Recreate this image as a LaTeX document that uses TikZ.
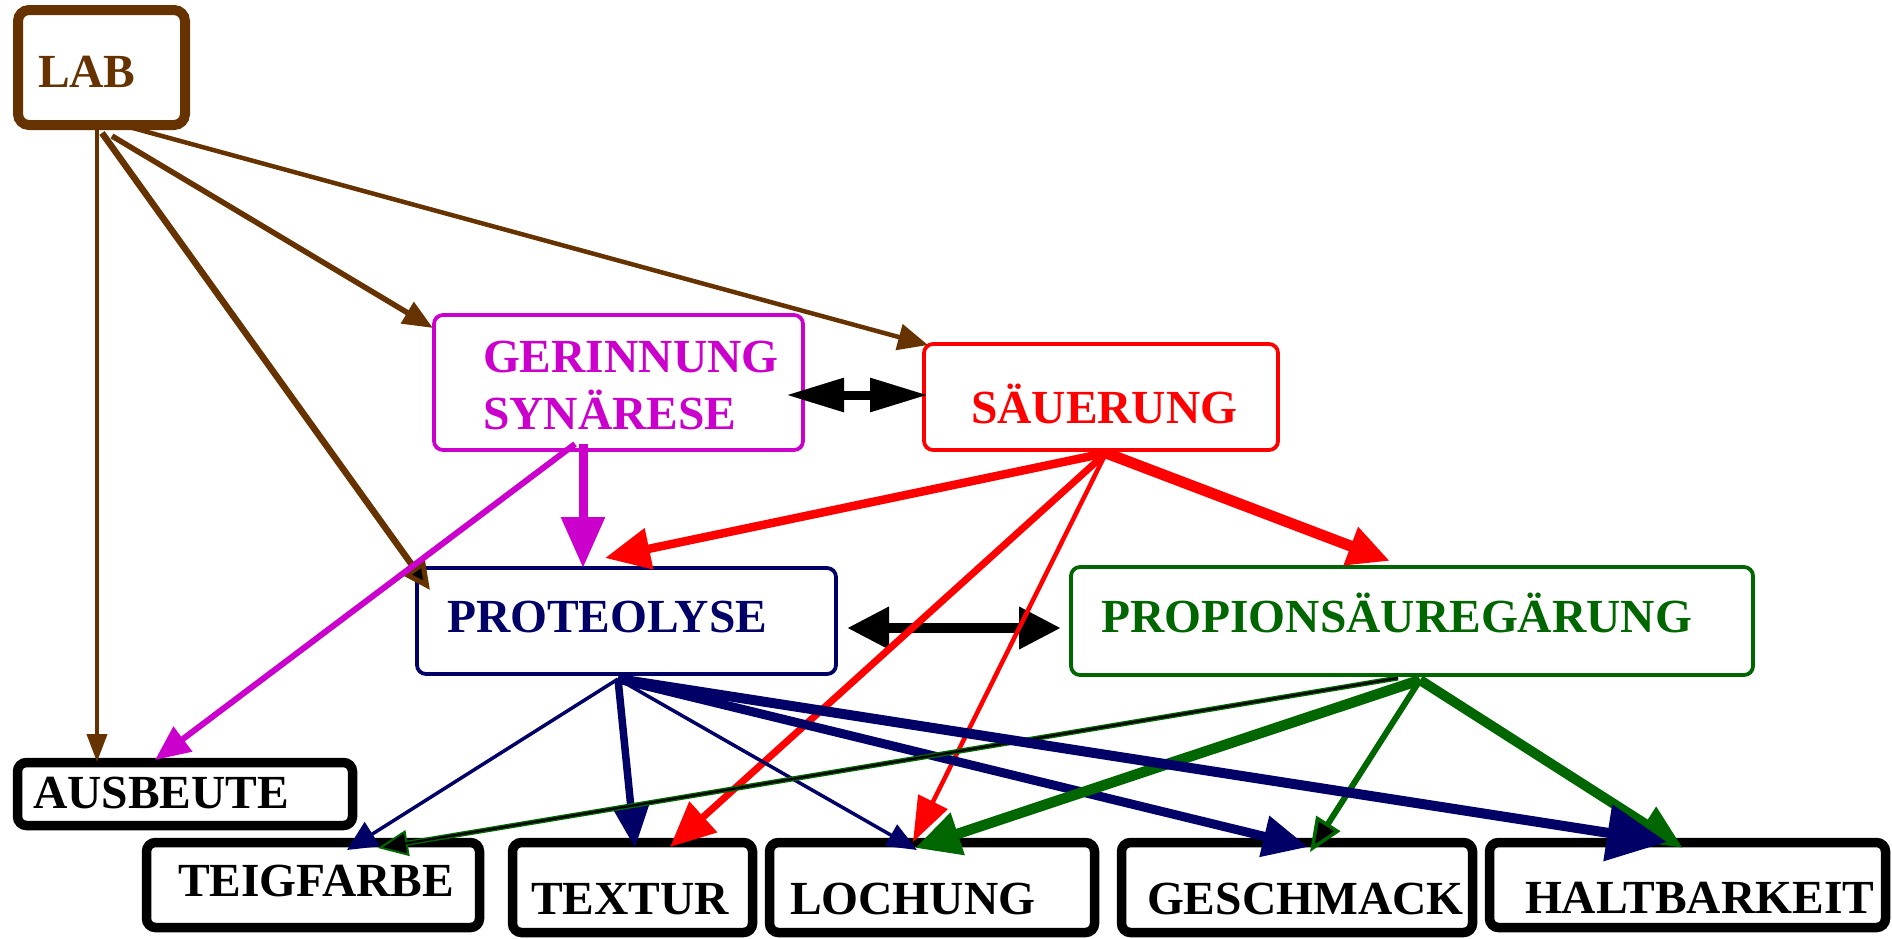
\documentclass[tikz,border=0pt]{standalone}
\usepackage{fontspec}
\setmainfont{Liberation Serif}
\usetikzlibrary{arrows.meta,calc}
\definecolor{labbrown}{HTML}{663300}
\definecolor{gmag}{HTML}{CC00CC}
\definecolor{sred}{HTML}{FF0000}
\definecolor{pnavy}{HTML}{000066}
\definecolor{pgreen}{HTML}{006600}

\begin{document}
\begin{tikzpicture}[x=1pt,y=-1pt,
  box/.style={draw, rectangle, rounded corners=9pt, inner sep=0pt, outer sep=0pt, fill=white},
  procbox/.style={box, line width=3.8pt},
  qualbox/.style={box, line width=9.5pt, draw=black},
  lbl/.style={inner sep=0pt, outer sep=0pt, anchor=base west,
    font=\fontsize{47.5}{57}\selectfont\bfseries},
  tip/.style 2 args={-{Triangle[length=#1pt,width=#2pt]}},
  hollowtip/.style n args={3}{-{Triangle[length=#1pt,width=#2pt,fill=black,line width=#3pt]}},
  bothtips/.style 2 args={{Triangle[length=#1pt,width=#2pt]}-{Triangle[length=#1pt,width=#2pt]}}
]
\useasboundingbox (0,0) rectangle (1892,938);

% ---- boxes ----
\node[box, draw=labbrown, line width=10pt, rounded corners=11pt,
      minimum width=167pt, minimum height=115pt] (lab) at (101.5,67.5) {};
\node[procbox, draw=gmag, minimum width=369pt, minimum height=135pt] (ger) at (618.5,382.5) {};
\node[procbox, draw=sred, minimum width=354pt, minimum height=106pt] (sau) at (1101,397) {};
\node[procbox, draw=pnavy, minimum width=419pt, minimum height=106pt] (prot) at (626.5,621) {};
\node[procbox, draw=pgreen, minimum width=682pt, minimum height=108pt] (prop) at (1412,621) {};
\node[qualbox, minimum width=335pt, minimum height=63pt] (aus) at (185,794) {};
\node[qualbox, minimum width=333pt, minimum height=85pt] (teig) at (313,885) {};
\node[qualbox, minimum width=240pt, minimum height=90pt] (textur) at (632.5,887.5) {};
\node[qualbox, minimum width=325pt, minimum height=90pt] (loch) at (932,887.5) {};
\node[qualbox, minimum width=351pt, minimum height=90pt] (gesch) at (1297,887.5) {};
\node[qualbox, minimum width=396pt, minimum height=85pt] (halt) at (1687.5,885) {};

% ---- labels ----
\node[lbl, text=labbrown] (tlab) at (38,87) {LAB};
\node[lbl, text=gmag, anchor=north west, align=left] (tger) at (483,341) {GERINNUNG\\SYNÄRESE};
\node[lbl, text=sred] (tsau) at (971,423) {SÄUERUNG};
\node[lbl, text=pnavy] (tprot) at (447,632) {PROTEOLYSE};
\node[lbl, text=pgreen] (tprop) at (1101,632) {PROPIONSÄUREGÄRUNG};
\node[lbl] (taus) at (33,808) {AUSBEUTE};
\node[lbl] (tteig) at (178,896) {TEIGFARBE};
\node[lbl] (ttextur) at (531,914) {TEXTUR};
\node[lbl] (tloch) at (790,914) {LOCHUNG};
\node[lbl] (tgesch) at (1147,914) {GESCHMACK};
\node[lbl] (thalt) at (1525,913) {HALTBARKEIT};

% ---- lactic acid bacteria ----
\draw[labbrown, line width=4pt, tip={28}{20}] ($(lab)+(-4.5,60.5)$) -- ($(aus)+(-88,-32)$);
\draw[labbrown, line width=6.5pt, hollowtip={28}{26}{5}] ($(lab)+(0.5,65.5)$) -- ($(prot)+(-196.5,-31)$);
\draw[labbrown, line width=5.5pt, tip={30}{24}] ($(lab)+(10.5,68.5)$) -- ($(ger)+(-185.5,-54.5)$);
\draw[labbrown, line width=4.5pt, tip={30}{26}] ($(lab)+(16.5,56.5)$) -- ($(sau)+(-173,-52)$);

% ---- coagulation / syneresis ----
\draw[gmag, line width=9pt, tip={51}{42}] ($(ger)+(-35.5,61.5)$) -- ($(prot)+(-43.5,-53)$);
\draw[gmag, line width=6pt, tip={35}{30}] ($(ger)+(-43.5,61.5)$) -- ($(aus)+(-30,-34)$);

% ---- mutual interactions ----
\draw[black, line width=9pt, bothtips={58}{32}] ($(ger)+(167.5,12.5)$) -- ($(sau)+(-173,-2)$);
\draw[black, line width=10pt, bothtips={42}{40}] ($(prot)+(220.5,7)$) -- ($(prop)+(-351,7)$);

% ---- acidification ----
\draw[sred, line width=8.5pt, tip={45}{40}] ($(sau)+(5,56)$) -- ($(prot)+(-21.5,-63)$);
\draw[sred, line width=11pt, tip={42}{38}] ($(sau)+(5,56)$) -- ($(prop)+(-22,-60)$);
\draw[sred, line width=7pt, tip={45}{40}] ($(sau)+(5,56)$) -- ($(textur)+(37.5,-40.5)$);
\draw[sred, line width=4.5pt, tip={45}{32}] ($(sau)+(5,56)$) -- ($(loch)+(-19,-45.5)$);

% ---- proteolysis ----
\draw[pnavy, line width=3.5pt, tip={30}{28}] ($(prot)+(-8.5,58)$) -- ($(teig)+(34,-35)$);
\draw[pnavy, line width=7.5pt, tip={42}{35}] ($(prot)+(-8.5,58)$) -- ($(textur)+(2.5,-39.5)$);
\draw[pnavy, line width=3.5pt, tip={30}{24}] ($(prot)+(-8.5,58)$) -- ($(loch)+(-15,-37.5)$);
\draw[pnavy, line width=9pt, tip={45}{40}] ($(prot)+(-8.5,58)$) -- ($(gesch)+(11,-40.5)$);

% ---- propionic fermentation ----
\draw[pgreen, line width=5pt, hollowtip={30}{26}{2}] ($(prop)+(-14,57)$) -- ($(teig)+(65,-37)$);
\draw[black, line width=2.2pt, shorten >=28pt] ($(prop)+(-14,57)$) -- ($(teig)+(65,-37)$);
\draw[pgreen, line width=10.5pt, tip={45}{42}] ($(prop)+(8,59)$) -- ($(loch)+(-17,-39.5)$);
\draw[pgreen, line width=6pt, hollowtip={34}{28}{3.5}] ($(prop)+(8,59)$) -- ($(gesch)+(13,-35.5)$);
\draw[pgreen, line width=10pt, tip={45}{38}] ($(prop)+(8,59)$) -- ($(halt)+(-4.5,-37)$);

\draw[pnavy, line width=10pt, tip={60}{55}] ($(prot)+(-8.5,58)$) -- ($(halt)+(-20.5,-43)$);
\end{tikzpicture}
\end{document}
